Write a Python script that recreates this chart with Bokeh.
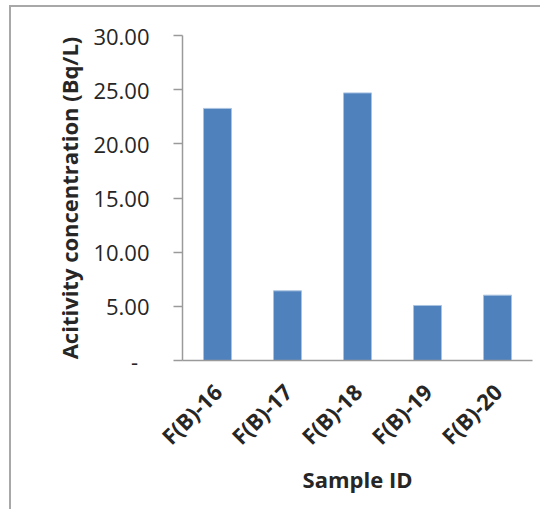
import math
from bokeh.plotting import figure
from bokeh.models import FixedTicker, NumeralTickFormatter, Range1d, ColumnDataSource
from bokeh.embed import file_html
from bokeh.resources import INLINE

# Data
samples = ["F(B)-16", "F(B)-17", "F(B)-18", "F(B)-19", "F(B)-20"]
activity = [23.27, 6.43, 24.70, 5.08, 6.03]
y_ticks = [0, 5, 10, 15, 20, 25, 30]

FONT = "Open Sans"
TXT = "#262626"
AXIS = "#9a9a9a"
BORDER = "#a8a8a8"

src = ColumnDataSource(dict(x=samples, top=activity))

p = figure(width=540, height=509, x_range=samples, y_range=Range1d(0, 30),
           output_backend="svg", toolbar_location=None,
           min_border_left=182, min_border_right=8,
           min_border_top=35, min_border_bottom=149)
p.outline_line_color = None
p.background_fill_color = "white"
p.border_fill_color = None
p.styles = {
    "background": (f"linear-gradient({BORDER},{BORDER}) 9px 5px / 2px 100% no-repeat, "
                   f"linear-gradient({BORDER},{BORDER}) 9px 5px / 100% 2px no-repeat, white"),
}
p.xgrid.grid_line_color = None
p.ygrid.grid_line_color = None

p.vbar(x="x", top="top", width=0.4, source=src,
       fill_color="#4F81BD", line_color="#A9C2E0", line_width=1)

# Y axis
p.yaxis.ticker = FixedTicker(ticks=y_ticks)
p.yaxis.formatter = NumeralTickFormatter(format="0.00")
p.yaxis.major_label_overrides = {0: "-\u00a0\u00a0"}
p.yaxis.major_tick_out = 9
p.yaxis.major_tick_in = 0
p.yaxis.minor_tick_line_color = None
p.yaxis.axis_line_color = AXIS
p.yaxis.axis_line_width = 1.5
p.yaxis.major_tick_line_color = AXIS
p.yaxis.major_tick_line_width = 1.5
p.yaxis.major_label_standoff = 24
p.yaxis.major_label_text_font = FONT
p.yaxis.major_label_text_font_size = "22px"
p.yaxis.major_label_text_color = TXT
p.yaxis.axis_label = "Acitivity concentration (Bq/L)"
p.yaxis.axis_label_text_font = FONT
p.yaxis.axis_label_text_font_style = "bold"
p.yaxis.axis_label_text_font_size = "22px"
p.yaxis.axis_label_text_color = TXT
p.yaxis.axis_label_standoff = 6

# X axis
p.xaxis.axis_line_color = AXIS
p.xaxis.axis_line_width = 1.5
p.xaxis.major_tick_line_color = None
p.xaxis.minor_tick_line_color = None
p.xaxis.major_label_orientation = math.pi / 4
p.xaxis.major_label_standoff = 21
p.xaxis.major_label_text_font = FONT
p.xaxis.major_label_text_font_style = "bold"
p.xaxis.major_label_text_font_size = "22px"
p.xaxis.major_label_text_color = TXT
p.xaxis.axis_label = "Sample ID"
p.xaxis.axis_label_text_font = FONT
p.xaxis.axis_label_text_font_style = "bold"
p.xaxis.axis_label_text_font_size = "22px"
p.xaxis.axis_label_text_color = TXT
p.xaxis.axis_label_standoff = 0

open("out.html", "w").write(file_html(p, INLINE))
